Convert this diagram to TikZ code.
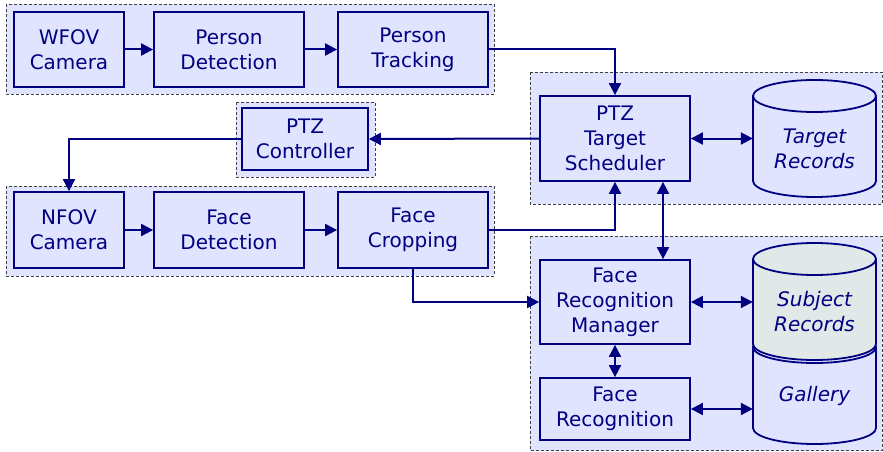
\documentclass[tikz,border=0pt]{standalone}
\usepackage{fontspec}
\setmainfont{DejaVu Sans}
\usetikzlibrary{arrows.meta,positioning,calc,backgrounds}

\definecolor{navy}{RGB}{0,0,128}
\definecolor{boxfill}{RGB}{224,228,255}
\definecolor{recfill}{RGB}{224,232,232}

\tikzset{
  block/.style={draw=navy,line width=1.8pt,fill=boxfill,text=navy,align=center,
    minimum width=150pt,inner sep=0pt,font=\fontsize{20}{25}\selectfont},
  group/.style={draw=black!75,line width=0.8pt,fill=boxfill,dash pattern=on 3pt off 2pt},
  dbline/.style={draw=navy,line width=1.8pt},
  dbtext/.style={text=navy,align=center,minimum width=123pt,inner sep=0pt,
    font=\fontsize{20}{25}\selectfont\itshape},
  link/.style={draw=navy,line width=2pt,-{Triangle[length=12pt,width=12pt]}},
  dlink/.style={link,{Triangle[length=12pt,width=12pt]}-{Triangle[length=12pt,width=12pt]}}
}

% cylinder: left x, top centre y, bottom centre y, fill
\newcommand{\dbdrum}[4]{%
  \draw[dbline,fill=#4] (#1,#2) -- (#1,#3)
    arc[start angle=180,end angle=360,x radius=61.5pt,y radius=16pt]
    -- ({#1+123},#2)
    arc[start angle=0,end angle=180,x radius=61.5pt,y radius=16pt] -- cycle;
  \draw[dbline] (#1,#2) arc[start angle=180,end angle=360,x radius=61.5pt,y radius=16pt];
}

\begin{document}
\begin{tikzpicture}[x=1pt,y=-1pt]
      \useasboundingbox (0,0) rectangle (883,452);

      % dashed groups
      \draw[group] (6,4) rectangle (494,94);
      \draw[group] (236,102) rectangle (375,177);
      \draw[group] (6,186) rectangle (494,276);
      \draw[group] (530,72) rectangle (882,204);
      \draw[group] (530,236) rectangle (882,450.5);

      % wide field of view chain
      \node[block,minimum width=110pt,minimum height=75pt] (wfov) at (69,49.5) {WFOV\\Camera};
      \node[block,minimum height=75pt,right = 28.2pt of wfov] (pdet) {Person\\Detection};
      \node[block,minimum height=75pt,right = 32.2pt of pdet] (ptrack) {Person\\Tracking};

      \node[block,minimum width=126pt,minimum height=62pt] (ptzc) at (305,139) {PTZ\\Controller};

      % narrow field of view chain
      \node[block,minimum width=110pt,minimum height=76pt] (nfov) at (69,230) {NFOV\\Camera};
      \node[block,minimum height=76pt,right = 28.2pt of nfov] (fdet) {Face\\Detection};
      \node[block,minimum height=76pt,right = 32.2pt of fdet] (crop) {Face\\Cropping};

      % scheduler and recognition
      \node[block,minimum height=85pt] (sched) at (615,138.5) {PTZ\\Target\\Scheduler};
      \node[block,minimum height=84pt] (frm) at (615,302) {Face\\Recognition\\Manager};
      \node[block,minimum height=62pt] (fr) at (615,409) {Face\\Recognition};

      % record stores
      \dbdrum{753}{96}{181}{boxfill}
      \dbdrum{753}{347}{428}{boxfill}
      \dbdrum{753}{259}{344}{recfill}
      \node[dbtext] (trec) at (814.5,149) {Target\\Records};
      \node[dbtext] (srec) at (814.5,312) {Subject\\Records};
      \node[dbtext] (gal) at (814.5,396) {Gallery};

      \draw[link] (wfov)--(pdet);
      \draw[link] (pdet)--(ptrack);
      \draw[link] (ptrack.east) -| (sched.north);
      \draw[link] (sched.west)--(ptzc.east);
      \draw[link] (ptzc.west) -| (nfov.north);

      \draw[link] (nfov)--(fdet);
      \draw[link] (fdet)--(crop);
      \draw[link] (crop.east) -| (sched.south);
      \draw[link] (crop.south) |- (frm.west);

      \draw[dlink] ([xshift=48pt]sched.south)--([xshift=48pt]frm.north);
      \draw[dlink] (frm.south)--(fr.north);
      \draw[dlink] (sched.east)--(sched.east -| trec.west);
      \draw[dlink] (frm.east)--(frm.east -| srec.west);
      \draw[dlink] (fr.east)--(fr.east -| gal.west);

    \end{tikzpicture}
\end{document}
